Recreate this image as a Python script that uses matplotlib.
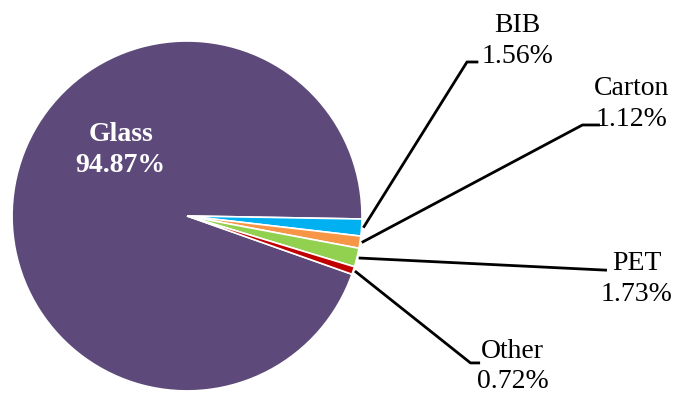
import matplotlib.pyplot as plt
import numpy as np

# packaging share of wine volume
labels = ['Glass', 'BIB', 'Carton', 'PET', 'Other']
shares = [94.87, 1.56, 1.12, 1.73, 0.72]
colors = ['#5D4A7A', '#00B0F0', '#F79646', '#92D050', '#C00000']

# label anchor (text centre), knee of leader, end of leader (data units, r=1 pie)
label_pos = {'BIB': (1.89, 1.0), 'Carton': (2.54, 0.64), 'PET': (2.57, -0.36), 'Other': (1.86, -0.86)}
knee_pos = {'BIB': (1.60, 0.88), 'Carton': (2.26, 0.52), 'PET': (2.40, -0.31), 'Other': (1.62, -0.84)}
end_pos = {'BIB': (1.665, 0.88), 'Carton': (2.36, 0.52), 'PET': (2.40, -0.31), 'Other': (1.675, -0.84)}


def plot():
    plt.rcParams['font.family'] = ['Liberation Serif', 'DejaVu Serif']
    fig = plt.figure(figsize=(6.75, 3.95), dpi=100)
    ax = fig.add_axes([0, 0, 1, 1])

    # Glass starts at the bottom of the small slices and goes round clockwise
    start = -1.0 - sum(shares[1:]) * 3.6
    wedges, _ = ax.pie(shares, colors=colors, startangle=start, counterclock=False,
                       radius=1.0, center=(0, 0),
                       wedgeprops=dict(edgecolor='white', linewidth=1.2))

    ax.text(-0.38, 0.375, 'Glass\n94.87%', color='white', fontsize=20, fontweight='bold',
            ha='center', va='center', linespacing=1.3)

    for w, lab, val in zip(wedges[1:], labels[1:], shares[1:]):
        mid = np.deg2rad((w.theta1 + w.theta2) / 2)
        x0, y0 = 1.01 * np.cos(mid), 1.01 * np.sin(mid)
        kx, ky = knee_pos[lab]
        ex, ey = end_pos[lab]
        ax.plot([x0, kx, ex], [y0, ky, ey], color='black', lw=2, solid_capstyle='butt')
        tx, ty = label_pos[lab]
        ax.text(tx, ty, '%s\n%.2f%%' % (lab, val), fontsize=20, ha='center', va='center',
                linespacing=1.3)

    ax.set_xlim(-1.069, 2.789)
    ax.set_ylim(-1.023, 1.234)
    ax.set_aspect('equal')
    ax.axis('off')
    fig.savefig('out.png', dpi=100, facecolor='white')


if __name__ == "__main__":
    plot()
